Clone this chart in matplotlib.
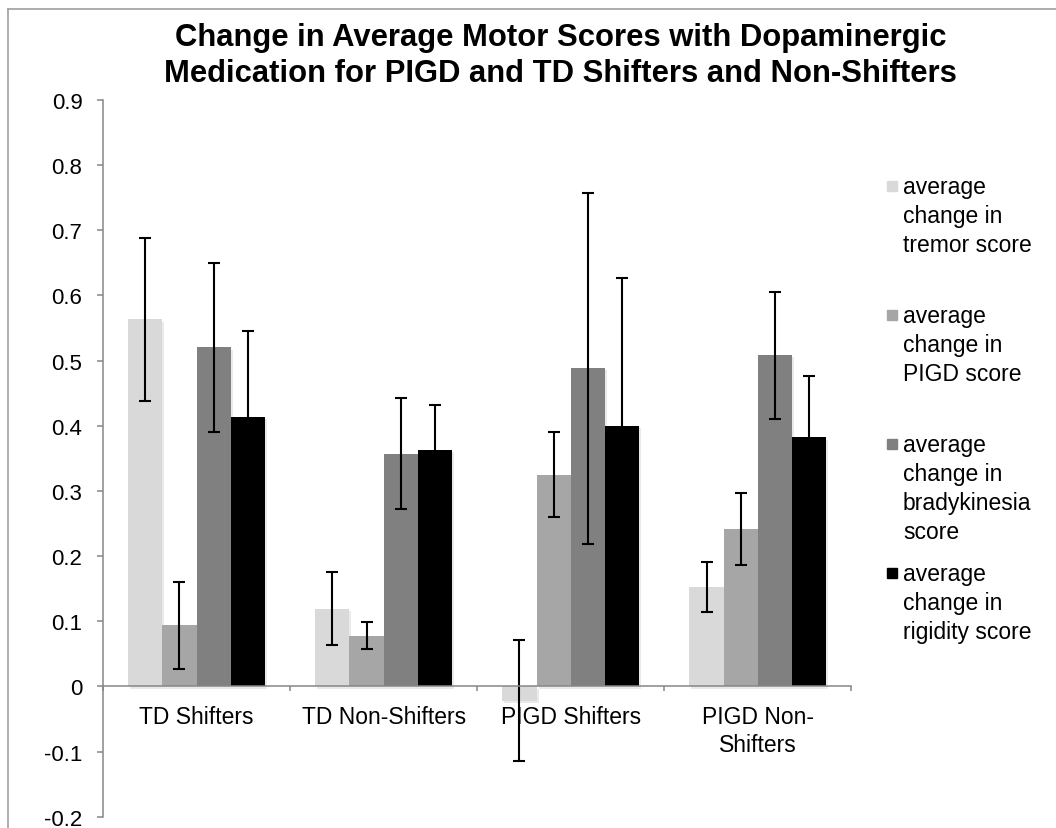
import matplotlib
matplotlib.use('Agg')
import matplotlib.pyplot as plt
import matplotlib.patheffects as pe
from matplotlib.patches import Rectangle
from matplotlib.lines import Line2D
import numpy as np

plt.rcParams['font.family'] = ['Liberation Sans', 'DejaVu Sans']

# groups on the x axis
groups = ['TD Shifters', 'TD Non-Shifters', 'PIGD Shifters', 'PIGD Non-\nShifters']

# series names (legend) and colours
series_names = ['average\nchange in\ntremor score',
                'average\nchange in\nPIGD score',
                'average\nchange in\nbradykinesia\nscore',
                'average\nchange in\nrigidity score']
series_colors = ['#d9d9d9', '#a6a6a6', '#808080', '#000000']

# mean change per group
tremor = [0.563, 0.119, -0.022, 0.153]
pigd = [0.094, 0.078, 0.325, 0.242]
brady = [0.520, 0.357, 0.488, 0.508]
rigidity = [0.413, 0.363, 0.400, 0.382]

# error bar half lengths
tremor_err = [0.125, 0.056, 0.093, 0.038]
pigd_err = [0.067, 0.021, 0.065, 0.055]
brady_err = [0.129, 0.085, 0.269, 0.097]
rigidity_err = [0.132, 0.069, 0.227, 0.095]

values = [tremor, pigd, brady, rigidity]
errors = [tremor_err, pigd_err, brady_err, rigidity_err]

fig = plt.figure(figsize=(10.56, 8.29), dpi=100)
ax = fig.add_axes([0.0975, 0.0134, 0.7088, 0.8651])

x = np.arange(len(groups))
w = 0.183
shadow = [pe.SimplePatchShadow(offset=(1.5, -1.5), shadow_rgbFace='#999999', alpha=0.2), pe.Normal()]

for i in range(len(values)):
    pos = x + (i - 1.5) * w
    bars = ax.bar(pos, values[i], w, color=series_colors[i], zorder=1)
    for b in bars:
        b.set_path_effects(shadow)
    ax.errorbar(pos, values[i], yerr=errors[i], fmt='none', ecolor='black',
                elinewidth=1.5, capsize=4.5, capthick=1.5, zorder=2)

ax.set_xlim(-0.5, 3.5)
ax.set_ylim(-0.2, 0.9)

axis_grey = '#868686'
for s in ['top', 'right']:
    ax.spines[s].set_visible(False)
ax.spines['left'].set_color(axis_grey)
ax.spines['left'].set_linewidth(1.1)
ax.spines['bottom'].set_position(('data', 0))
ax.spines['bottom'].set_color(axis_grey)
ax.spines['bottom'].set_linewidth(1.1)

yt = np.round(np.arange(-0.2, 0.91, 0.1), 1)
ax.set_yticks(yt)
ax.set_yticklabels(['0' if v == 0 else '%.1f' % v for v in yt])
ax.tick_params(axis='y', direction='out', length=4.3, width=1.1, color=axis_grey,
               pad=10.5, labelsize=16)

ax.set_xticks(x)
ax.set_xticklabels(groups, linespacing=1.25)
ax.set_xticks(np.arange(-0.5, 3.6, 1.0), minor=True)
ax.tick_params(axis='x', which='major', length=0, pad=13.5, labelsize=16.5)
ax.tick_params(axis='x', which='minor', direction='out', length=3.6, width=1.1, color=axis_grey)

fig.text(0.531, 1 - 23 / 829,
         'Change in Average Motor Scores with Dopaminergic\nMedication for PIGD and TD Shifters and Non-Shifters',
         ha='center', va='top', fontsize=22.3, fontweight='bold', linespacing=1.25)

# legend entries spread evenly down the right side
W, H = 1056.0, 829.0
for i in range(len(series_names)):
    yc = 187 + 129 * i
    fig.patches.append(Rectangle((887 / W, 1 - (yc + 5) / H), 10 / W, 10 / H,
                                 transform=fig.transFigure, color=series_colors[i]))
    fig.text(903 / W, 1 - (yc - 11) / H, series_names[i], ha='left', va='top',
             fontsize=16.5, linespacing=1.33)

# outer chart frame
fig.add_artist(Line2D([8 / W, 1.0], [1 - 10 / H, 1 - 10 / H], transform=fig.transFigure,
                      color='#a0a0a0', linewidth=1.2))
fig.add_artist(Line2D([8 / W, 8 / W], [0.0, 1 - 10 / H], transform=fig.transFigure,
                      color='#a0a0a0', linewidth=1.2))

fig.savefig('out.png', dpi=100)
